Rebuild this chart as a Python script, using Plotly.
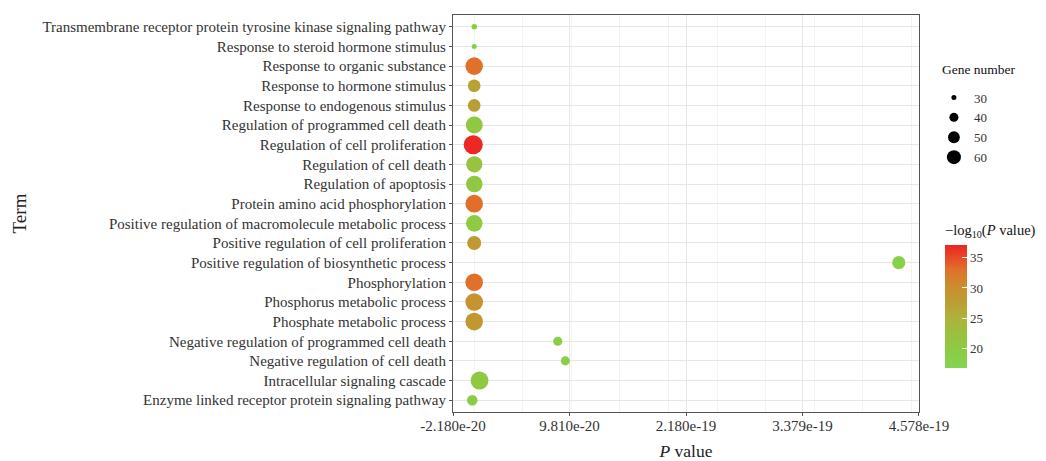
import plotly.graph_objects as go

# ---------------- data (bottom -> top, as drawn) ----------------
terms = [
    "Enzyme linked receptor protein signaling pathway",
    "Intracellular signaling cascade",
    "Negative regulation of cell death",
    "Negative regulation of programmed cell death",
    "Phosphate metabolic process",
    "Phosphorus metabolic process",
    "Phosphorylation",
    "Positive regulation of biosynthetic process",
    "Positive regulation of cell proliferation",
    "Positive regulation of macromolecule metabolic process",
    "Protein amino acid phosphorylation",
    "Regulation of apoptosis",
    "Regulation of cell death",
    "Regulation of cell proliferation",
    "Regulation of programmed cell death",
    "Response to endogenous stimulus",
    "Response to hormone stimulus",
    "Response to organic substance",
    "Response to steroid hormone stimulus",
    "Transmembrane receptor protein tyrosine kinase signaling pathway",
]
p_value = [
    -2.0e-21, 5.5e-21, 9.38e-20, 8.6e-20, 1.0e-29, 3.0e-30, 1.0e-33,
    4.37e-19, 1.0e-28, 1.0e-22, 1.0e-33, 1.0e-22, 1.0e-22, -1.0e-21,
    1.0e-22, 1.0e-27, 1.0e-27, 1.0e-33, 1.0e-30, 1.0e-22,
]
neg_log10_p = [
    19.6, 20.2, 19.0, 19.1, 29.0, 29.5, 33.0,
    18.4, 28.6, 20.3, 33.2, 20.6, 22.0, 37.0,
    20.5, 27.8, 27.3, 33.0, 19.0, 19.6,
]
gene_number = [
    45, 82, 40, 40, 80, 80, 80,
    56, 60, 74, 80, 74, 72, 90,
    76, 54, 54, 80, 30, 31,
]
size_breaks = [30, 40, 50, 60]
x_ticks = [-2.180e-20, 9.810e-20, 2.180e-19, 3.379e-19, 4.578e-19]
x_ticklabels = ["-2.180e-20", "9.810e-20", "2.180e-19", "3.379e-19", "4.578e-19"]
color_ticks = [20, 25, 30, 35]


def diam(g):
    # area grows linearly with gene number (ggplot-like scale_size)
    return max(-146 + 5.7 * g, 4) ** 0.5


colorscale = [
    [0.00, "#84D452"],
    [0.16, "#8CCB42"],
    [0.41, "#AEB23A"],
    [0.55, "#BC9C32"],
    [0.65, "#C8902E"],
    [0.80, "#E0702A"],
    [1.00, "#EE2424"],
]

FONT = "Liberation Serif"
fig = go.Figure()

fig.add_trace(go.Scatter(
    x=p_value, y=terms, mode="markers", showlegend=False,
    marker=dict(
        size=[diam(g) for g in gene_number],
        color=neg_log10_p, colorscale=colorscale, cmin=16.8, cmax=37.2,
        line=dict(width=0), opacity=1,
        colorbar=dict(
            title=dict(text="\u2212log<sub>10</sub>(<i>P</i> value)", side="top",
                       font=dict(family=FONT, size=14.5, color="#111")),
            x=1.0558, xanchor="left", y=0.112, yanchor="bottom",
            thickness=22, lenmode="pixels", len=146,
            tickvals=color_ticks, ticks="inside", ticklen=5, tickcolor="white",
            tickfont=dict(family=FONT, size=13, color="#333"),
            outlinewidth=0, xpad=0, ypad=0,
        ),
    ),
    hoverinfo="skip",
))

for g in size_breaks:
    fig.add_trace(go.Scatter(
        x=[None], y=[None], mode="markers", name=str(g),
        marker=dict(size=diam(g), color="black", line=dict(width=0)),
        showlegend=True,
    ))

fig.add_annotation(
    text="Gene number", xref="paper", yref="paper", x=1.046, y=0.862,
    xanchor="left", yanchor="middle", showarrow=False,
    font=dict(family=FONT, size=13.5, color="#111"),
)

fig.update_layout(
    width=1046, height=461,
    margin=dict(l=445, r=135, t=7, b=57, autoexpand=False),
    paper_bgcolor="white", plot_bgcolor="white",
    font=dict(family=FONT, color="#222"),
    legend=dict(
        x=1.032, xanchor="left", y=0.83, yanchor="top",
        itemsizing="trace", font=dict(family=FONT, size=13, color="#333"),
        bgcolor="rgba(0,0,0,0)", tracegroupgap=0,
    ),
    xaxis=dict(
        range=[-2.180e-20 - 1e-23, 4.578e-19 + 1e-23],
        tickvals=x_ticks, ticktext=x_ticklabels,
        tickfont=dict(family=FONT, size=15, color="#333"),
        ticklabelstandoff=-3,
        showgrid=True, gridcolor="#E6E6E6", gridwidth=1,
        minor=dict(showgrid=True, gridcolor="#F3F3F3", gridwidth=0.8, nticks=2),
        showline=True, linecolor="#555", linewidth=1.2, mirror=True,
        ticks="outside", ticklen=3, tickcolor="#555",
        zeroline=False, automargin=False,
        title=dict(text="<i>P</i> value", font=dict(family=FONT, size=17.5, color="#222"), standoff=11),
    ),
    yaxis=dict(
        type="category", categoryorder="array", categoryarray=terms,
        range=[-0.6, len(terms) - 0.4],
        tickfont=dict(family=FONT, size=15, color="#333"),
        showgrid=True, gridcolor="#E6E6E6", gridwidth=1,
        showline=True, linecolor="#555", linewidth=1.2, mirror=True,
        ticks="outside", ticklen=3, tickcolor="#555",
        zeroline=False, automargin=False,
        title=dict(text="Term", font=dict(family=FONT, size=19, color="#222"), standoff=10),
    ),
)

fig.write_html("out.html")
